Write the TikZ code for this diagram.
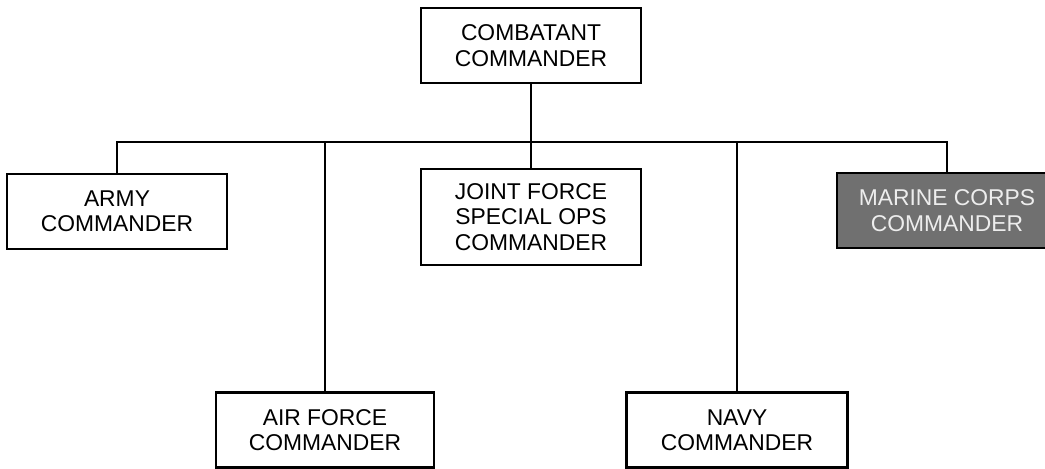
\documentclass[tikz,border=0pt]{standalone}
\usepackage{fontspec}
\setmainfont{Liberation Sans}
\usetikzlibrary{positioning}

\definecolor{marinegray}{HTML}{707070}
\definecolor{marinetext}{HTML}{EDEDED}

\begin{document}
\begin{tikzpicture}[x=0.02cm, y=-0.02cm,
  box/.style={draw, line width=1.2pt, minimum width=4.4cm, minimum height=1.5cm,
    align=center, font=\fontsize{13}{14.5}\selectfont, inner sep=0pt},
  link/.style={line width=1.2pt}]
\useasboundingbox (0,0) rectangle (1045,468);

% top of the chain
\node[box] (cc) at (531,45.5) {COMBATANT\\COMMANDER};

% components
\node[box] (army) at (117,211.5) {ARMY\\COMMANDER};
\node[box, minimum height=1.92cm] (jsoc) at (531,217) {JOINT FORCE\\SPECIAL OPS\\COMMANDER};
\node[box, fill=marinegray, text=marinetext] (marine) at (947,210.5) {MARINE CORPS\\COMMANDER};
\node[box, minimum width=4.36cm] (airforce) at (325,430) {AIR FORCE\\COMMANDER};
\node[box, minimum width=4.42cm] (navy) at (737,430) {NAVY\\COMMANDER};

\coordinate (bus) at (531,142);

\draw[link] (army.north) |- (bus) -| (marine.north);
\draw[link] (cc.south) -- (jsoc.north);
\draw[link] (airforce.north) -- (airforce.north |- bus);
\draw[link] (navy.north) -- (navy.north |- bus);
\end{tikzpicture}
\end{document}
